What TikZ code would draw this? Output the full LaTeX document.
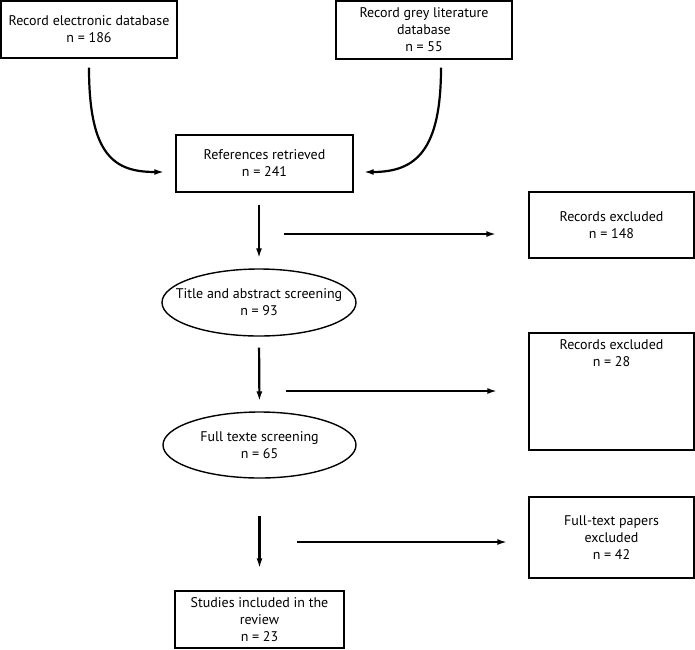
\documentclass[tikz,border=0pt]{standalone}
\usepackage{fontspec}
\setmainfont{PT Sans}
\usetikzlibrary{arrows.meta,shapes.geometric}

\tikzset{
  txt/.style={align=center,font=\fontsize{14}{17}\selectfont},
  box/.style={draw,line width=1.4pt,txt,inner sep=2pt},
  oval/.style={draw,ellipse,line width=1.4pt,inner sep=0pt},
  arr/.style={line width=2.2pt,-{Latex[length=10pt,width=6pt]}}
}

\begin{document}
\begin{tikzpicture}[x=1pt,y=-1pt]
\path[use as bounding box] (0,0) rectangle (695,649);
\node[box,minimum width=176pt,minimum height=57pt] (recA) at (89,29.5) {Record electronic database\\n = 186};
\node[box,minimum width=176pt,minimum height=58pt] (recB) at (424,30) {Record grey literature\\database\\n = 55};
\node[box,minimum width=177pt,minimum height=57pt] (refs) at (264.5,163.5) {References retrieved\\n = 241};
\node[oval,minimum width=194pt,minimum height=67pt,label={[txt]center:Title and abstract screening\\n = 93}] (tas) at (259,302.5) {};
\node[oval,minimum width=193pt,minimum height=66pt,label={[txt]center:Full texte screening\\n = 65}] (fts) at (259.5,445) {};
\node[box,minimum width=169pt,minimum height=57pt] (incl) at (259.5,619.5) {Studies included in the\\review\\n = 23};
\node[box,minimum width=165pt,minimum height=66pt] (exA) at (611.5,225) {Records excluded\\n = 148};
\node[box,minimum width=165pt,minimum height=117pt,inner sep=0pt] (exB) at (611.5,391.5)
  {\parbox[c][113pt][t]{150pt}{\centering\vspace{5pt}Records excluded\\n = 28}};
\node[box,minimum width=165pt,minimum height=81pt] (exC) at (611.5,537.5) {Full-text papers\\excluded\\n = 42};

% free ends
\coordinate (endA) at ([xshift=-11pt,yshift=-8.5pt]refs.west);
\coordinate (endB) at ([xshift=10pt,yshift=-8.5pt]refs.east);
\coordinate (h1) at (284,234);
\coordinate (h2) at (286,391);
\coordinate (h3) at (297,542);

\draw[arr] ([yshift=-9pt]recA.south) .. controls +(0,88) and +(-50,0) .. (endA);
\draw[arr] ([xshift=17pt,yshift=-8pt]recB.south) .. controls +(0,83) and +(52,0) .. (endB);
\draw[arr,shorten <=12pt,shorten >=10pt] (refs.south -| tas.north) -- (tas.north);
\draw[arr,shorten <=11pt,shorten >=10pt] (tas.south) -- (fts.north);
\draw[arr,shorten <=37pt,shorten >=22pt] (fts.south) -- (fts.south |- incl.north);
\draw[arr,shorten >=32pt] (h1) -- (h1 -| exA.west);
\draw[arr,shorten >=31pt] (h2) -- (h2 -| exB.west);
\draw[arr,shorten >=21pt] (h3) -- (h3 -| exC.west);
\end{tikzpicture}
\end{document}
